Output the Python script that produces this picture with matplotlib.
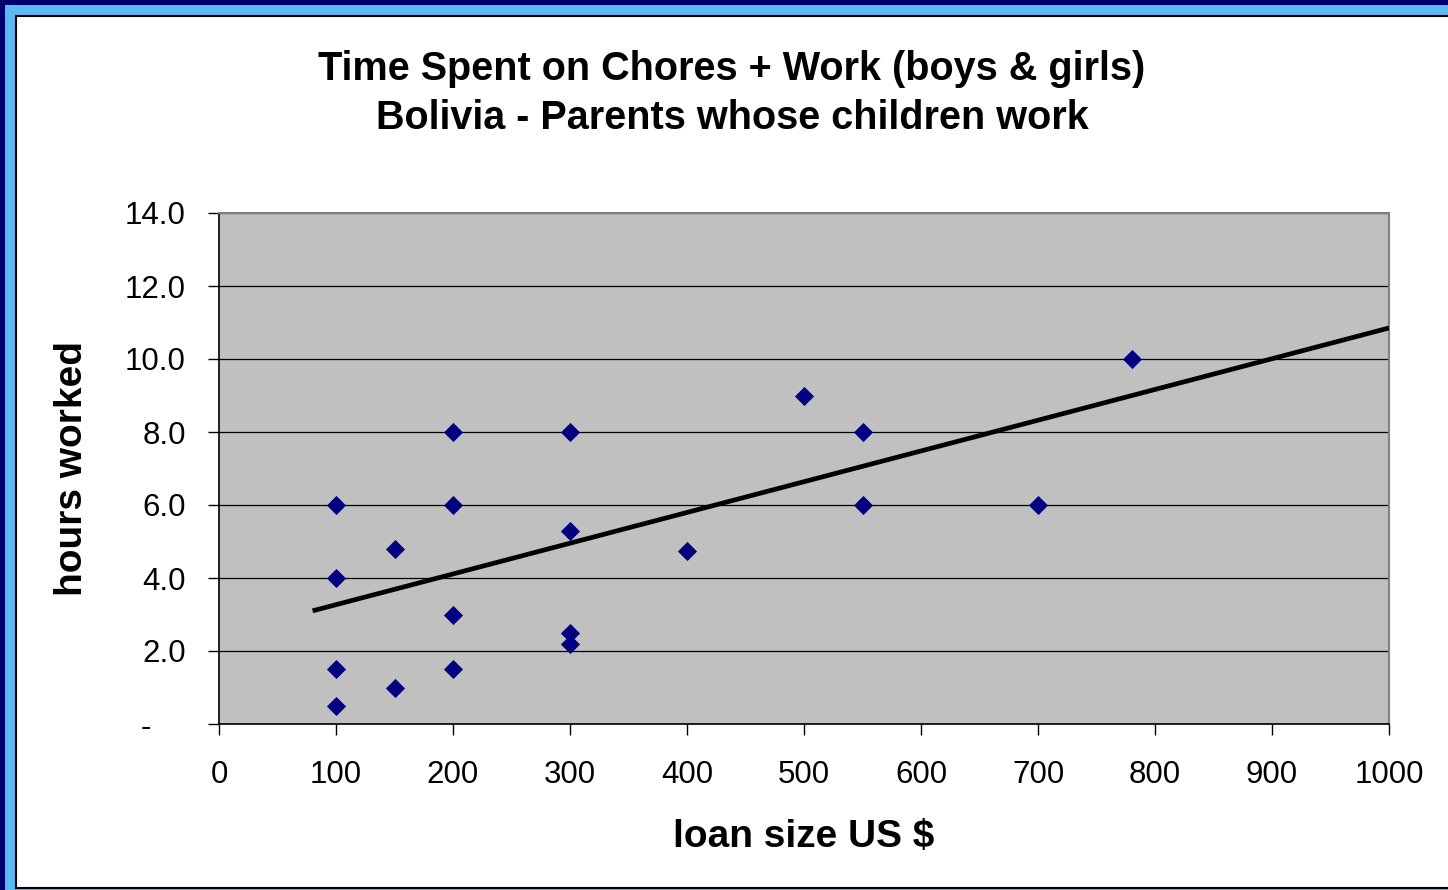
import matplotlib
matplotlib.use("Agg")
import matplotlib.pyplot as plt
from matplotlib.patches import Rectangle

plt.rcParams.update({
    "font.family": ["Liberation Sans", "DejaVu Sans"],
})

# data
loan_size = [100, 100, 100, 100, 150, 150, 200, 200, 200, 200,
             300, 300, 300, 300, 400, 500, 550, 550, 700, 780]
hours_worked = [6.0, 4.0, 1.5, 0.5, 4.8, 1.0, 8.0, 6.0, 3.0, 1.5,
                8.0, 5.3, 2.5, 2.2, 4.75, 9.0, 8.0, 6.0, 6.0, 10.0]

# linear trend line as drawn (end points)
trend_x = [80, 1000]
trend_y = [3.1, 10.85]

x_ticks = list(range(0, 1001, 100))
y_ticks = [0, 2, 4, 6, 8, 10, 12, 14]
y_labels = ["-    "] + [f"{v:.1f}" for v in y_ticks[1:]]

W, H = 1448, 890
fig = plt.figure(figsize=(W / 100, H / 100), dpi=100)
fig.patch.set_facecolor("#00006E")

# slide-like frame
fig.patches.append(Rectangle((5 / W, 0), 1.0, (H - 5) / H, transform=fig.transFigure,
                             facecolor="#5BB9F2", edgecolor="none", zorder=-2))
fig.patches.append(Rectangle((16 / W, 2 / H), 1.0, (888 - 16) / H, transform=fig.transFigure,
                             facecolor="white", edgecolor="black", linewidth=1.5, zorder=-1))

ax = fig.add_axes([219 / W, 1 - 724 / H, (1389 - 219) / W, (724 - 213) / H])
ax.set_facecolor("#C0C0C0")

ax.scatter(loan_size, hours_worked, marker="D", s=95, color="#000080", zorder=3, linewidths=0)
ax.plot(trend_x, trend_y, color="black", linewidth=3.4, zorder=4, solid_capstyle="butt")

ax.set_xlim(0, 1000)
ax.set_ylim(0, 14)
ax.set_xticks(x_ticks)
ax.set_yticks(y_ticks)
ax.set_yticklabels(y_labels)
ax.tick_params(axis="both", direction="out", length=8, width=1, labelsize=22.5, color="black")
ax.tick_params(axis="y", pad=16)
ax.tick_params(axis="x", pad=18)

ax.yaxis.grid(True, color="black", linewidth=0.9)
ax.set_axisbelow(True)

for side in ["left", "bottom"]:
    ax.spines[side].set_color("black")
    ax.spines[side].set_linewidth(1.2)
for side in ["top", "right"]:
    ax.spines[side].set_color("#808080")
    ax.spines[side].set_linewidth(1.5)

fig.text(732 / W, 1 - 80 / H, "Time Spent on Chores + Work (boys & girls)",
         ha="center", va="baseline", fontsize=28.5, fontweight="bold")
fig.text(732 / W, 1 - 129 / H, "Bolivia - Parents whose children work",
         ha="center", va="baseline", fontsize=28.5, fontweight="bold")

fig.text(804 / W, 1 - 847 / H, "loan size US $", ha="center", va="baseline",
         fontsize=28, fontweight="bold")
fig.text(72 / W, 1 - 469 / H, "hours worked", ha="center", va="center",
         rotation=90, fontsize=28, fontweight="bold")

fig.savefig("out.png", dpi=100)
